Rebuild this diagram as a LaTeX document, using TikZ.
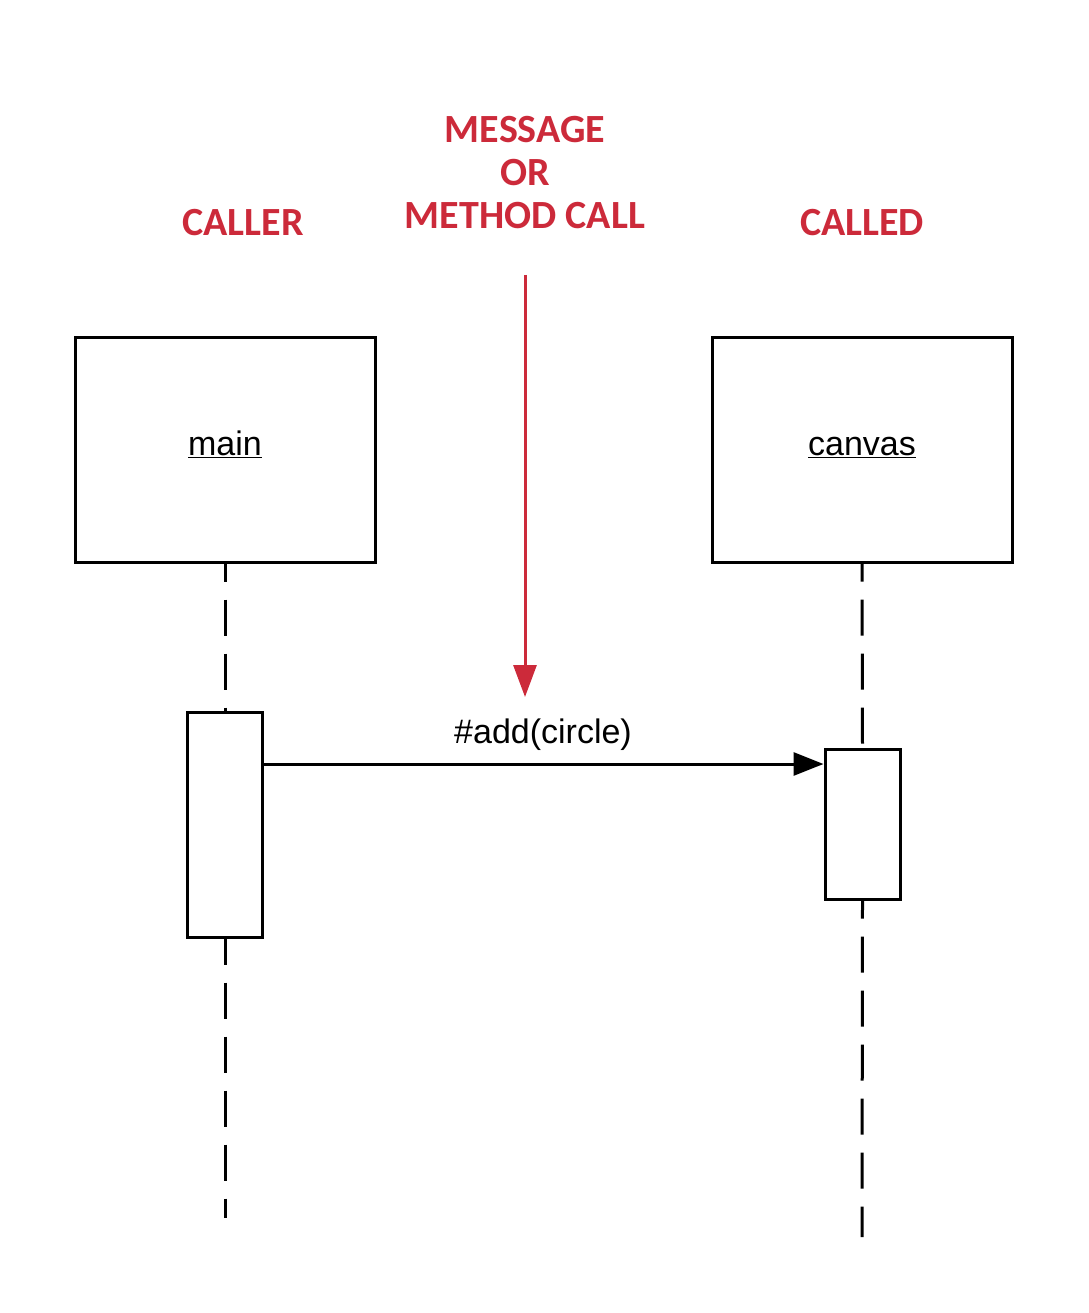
\documentclass[tikz,border=0pt]{standalone}
\usepackage{fontspec}
\setmainfont{Liberation Sans}
\newfontfamily\handfont{Carlito}
\usetikzlibrary{arrows.meta}
\definecolor{annot}{HTML}{CC2A3A}
\begin{document}
\begin{tikzpicture}[x=1pt,y=-1pt,
  objbox/.style={draw=black,line width=3pt,minimum width=300pt,minimum height=225pt,inner sep=0pt,
    text height=23pt,text depth=12pt,font=\fontsize{34}{40}\selectfont},
  actbox/.style={draw=black,fill=white,line width=3pt,minimum width=75pt,inner sep=0pt},
  lifeline/.style={line width=3pt,dash pattern=on 36pt off 18pt,dash phase=18pt},
  msg/.style={line width=3pt,-{Triangle[length=30pt,width=23pt]}},
  annotarrow/.style={draw=annot,line width=3pt,-{Triangle[length=32pt,width=23pt]}},
  annottext/.style={text=annot,font=\handfont\bfseries\fontsize{40}{43}\selectfont,align=center,inner sep=0pt},
  msglabel/.style={font=\fontsize{34}{40}\selectfont,inner sep=0pt}]
\useasboundingbox (0,0) rectangle (1088,1313);

% annotations
\node[annottext] (caller) at (243,223) {CALLER};
\node[annottext] (called) at (862,223) {CALLED};
\node[annottext] (message) at (525,173) {MESSAGE\\OR\\METHOD CALL};
\coordinate (rs) at (525,275);
\coordinate (re) at (525,697);
\draw[annotarrow] (rs) -- (re);

% objects
\node[objbox] (main) at (225,449.5) {\underline{main}};
\node[objbox] (canvas) at (862,449.5) {\underline{canvas}};

% activations
\node[actbox,minimum height=225pt] (mainact) at (225,824.5) {};
\node[actbox,minimum height=150pt] (canvasact) at (862.5,824) {};

% lifelines
\coordinate (mainend) at (225,1218);
\coordinate (canvasend) at (862,1237);
\draw[lifeline] (main.south) -- (mainact.north);
\draw[lifeline,dash phase=10pt] (mainact.south) -- (mainend);
\draw[lifeline] (canvas.south) -- (canvasact.north);
\draw[lifeline] (canvasact.south) -- (canvasend);

% message
\coordinate (m) at (543,764);
\draw[msg] (mainact.east |- m) -- (canvasact.west |- m);
\node[msglabel] (lbl) at (543,735) {\#add(circle)};
\end{tikzpicture}
\end{document}
